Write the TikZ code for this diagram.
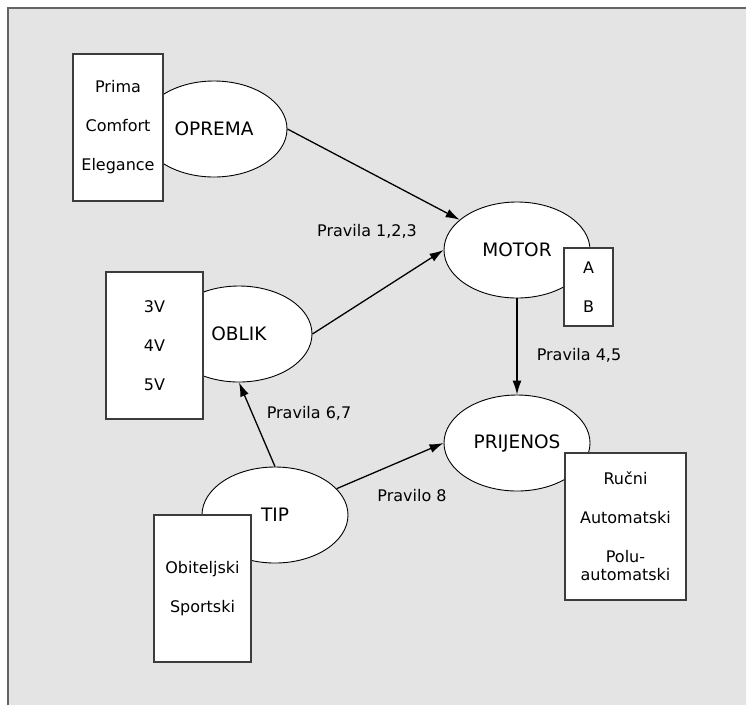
\documentclass[tikz,border=0pt]{standalone}
\usepackage{fontspec}
\setmainfont{DejaVu Sans}
\usetikzlibrary{shapes.geometric,arrows.meta}
\definecolor{bggray}{RGB}{228,228,228}
\definecolor{framegray}{RGB}{100,100,100}
\definecolor{boxline}{RGB}{60,60,60}
\tikzset{
  oval/.style={ellipse,draw=black,fill=white,line width=0.9pt,minimum width=146pt,minimum height=96pt,inner sep=0pt,font=\fontsize{18.5}{22}\selectfont},
  valbox/.style={rectangle,draw=boxline,fill=white,line width=1.1pt,inner sep=0pt,align=center,font=\fontsize{16}{39}\selectfont},
  conn/.style={line width=1.3pt,-{Latex[length=14pt,width=9pt]}},
  rulelbl/.style={font=\fontsize{16}{19}\selectfont,inner sep=0pt}
}
\begin{document}
\begin{tikzpicture}[x=1pt,y=-1pt]
\useasboundingbox (0,0) rectangle (746,705);
\fill[bggray] (8,8) rectangle (746,705);
\draw[framegray,line width=1.5pt] (8,705) -- (8,8) -- (746,8);

% ellipses
\node[oval] (oprema) at (214,129) {OPREMA};
\node[oval] (motor) at (517,250) {MOTOR};
\node[oval] (oblik) at (239,334) {OBLIK};
\node[oval] (prijenos) at (517,443) {PRIJENOS};
\node[oval] (tip) at (275,515) {TIP};

% value boxes
\node[valbox,minimum width=90pt,minimum height=147pt] (opremabox) at (118,127.5) {Prima\\Comfort\\Elegance};
\node[valbox,minimum width=49pt,minimum height=78pt] (motorbox) at (588.5,287) {A\\B};
\node[valbox,minimum width=97pt,minimum height=147pt] (oblikbox) at (154.5,345.5) {3V\\4V\\5V};
\node[valbox,minimum width=121pt,minimum height=147pt] (prijenosbox) at (625.5,526.5) {Ručni\\Automatski\\Polu-\\[-21pt]automatski};
\node[valbox,minimum width=97pt,minimum height=147pt] (tipbox) at (202.5,588.5) {Obiteljski\\Sportski};

% connectors
\draw[conn] (oprema.east) -- (motor);
\draw[conn] (oblik.east) -- (motor.west);
\draw[conn] (motor.south) -- (prijenos.north);
\draw[conn] (tip.north) -- (oblik.south);
\draw[conn] (tip) -- (prijenos.west);

% labels
\node[rulelbl] (l123) at (367,231) {Pravila 1,2,3};
\node[rulelbl] (l45) at (579,355) {Pravila 4,5};
\node[rulelbl] (l67) at (309,413) {Pravila 6,7};
\node[rulelbl] (l8) at (412,496) {Pravilo 8};
\end{tikzpicture}
\end{document}
